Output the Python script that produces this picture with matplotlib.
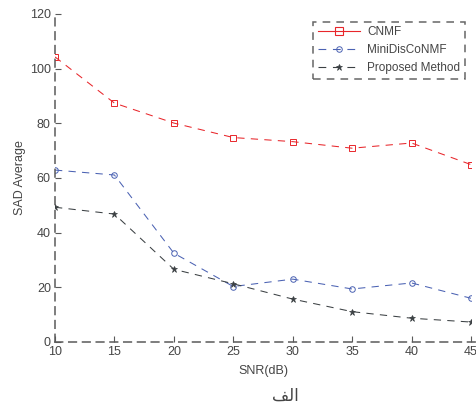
import matplotlib
matplotlib.use("Agg")
import matplotlib.pyplot as plt
from matplotlib.lines import Line2D

# Data.
snr = [10, 15, 20, 25, 30, 35, 40, 45]
cnmf = [104.3, 87.4, 80.1, 74.8, 73.3, 70.9, 72.8, 64.9]
minidisconmf = [62.9, 61.1, 32.5, 20.3, 23.0, 19.4, 21.6, 16.0]
proposed = [49.3, 46.8, 26.6, 21.3, 15.7, 11.1, 8.7, 7.3]

labels = ["CNMF", "MiniDisCoNMF", "Proposed Method"]
y_ticks = [0, 20, 40, 60, 80, 100, 120]
# Arabic caption "الف" written in shaped visual order (feh final, lam initial, alef).
caption = "\uFED2\uFEDF\u0627"

plt.rcParams["font.family"] = ["Liberation Sans", "DejaVu Sans"]

red = "#e8262b"
blue = "#4b62b3"
dark = "#3b4043"
axis_gray = "#5a5a5a"
text_gray = "#454545"

fig = plt.figure(figsize=(4.76, 4.09), dpi=100)
ax = fig.add_axes([55 / 476, 1 - 342 / 409, (471 - 55) / 476, (342 - 14) / 409])

dash = (0, (7, 6))
ax.plot(snr, cnmf, color=red, linestyle=dash, linewidth=0.75,
        marker="s", markersize=4, markerfacecolor="none", markeredgewidth=0.7)
ax.plot(snr, minidisconmf, color=blue, linestyle=dash, linewidth=0.75,
        marker="o", markersize=4, markerfacecolor="none", markeredgewidth=0.7)
ax.plot(snr, proposed, color=dark, linestyle=dash, linewidth=0.75,
        marker="*", markersize=5, markeredgewidth=0.5)

ax.set_xlim(10, 45)
ax.set_ylim(0, 120)
ax.set_xticks(snr)
ax.set_yticks(y_ticks)

for side in ["top", "right"]:
    ax.spines[side].set_visible(False)
for side in ["left", "bottom"]:
    ax.spines[side].set_color(axis_gray)
    ax.spines[side].set_linestyle((0, (5, 4)))
    ax.spines[side].set_linewidth(1.1)
ax.spines["bottom"].set_bounds(10, 46)
ax.spines["bottom"].set_clip_on(False)

ax.tick_params(direction="in", length=4, width=0.8, color=axis_gray,
               labelcolor=text_gray, labelsize=9, pad=3)

ax.set_xlabel("SNR(dB)", fontsize=9, color=text_gray, labelpad=5)
ax.set_ylabel("SAD Average", fontsize=9, color=text_gray, labelpad=3)

handles = [
    Line2D([], [], color=red, linestyle="-", linewidth=0.8, marker="s",
           markersize=6, markerfacecolor="none", markeredgewidth=0.8),
    Line2D([], [], color=blue, linestyle=dash, linewidth=0.8, marker="o",
           markersize=4, markerfacecolor="none", markeredgewidth=0.7),
    Line2D([], [], color=dark, linestyle=dash, linewidth=0.8, marker="*",
           markersize=5, markeredgewidth=0.5),
]
leg = ax.legend(handles, labels, loc="upper right", bbox_to_anchor=(1.0, 0.995),
                fontsize=8.5, frameon=True, fancybox=False, handlelength=3.6,
                borderpad=0.4, labelspacing=0.5, handletextpad=0.6)
frame = leg.get_frame()
frame.set_edgecolor("#404040")
frame.set_linestyle((0, (5, 4)))
frame.set_linewidth(1.1)
for t in leg.get_texts():
    t.set_color(text_gray)

fig.text(285 / 476, 1 - 396 / 409, caption, fontsize=12, color=text_gray,
         ha="center", va="center", family=["DejaVu Sans"])

fig.savefig("out.png", dpi=100)
